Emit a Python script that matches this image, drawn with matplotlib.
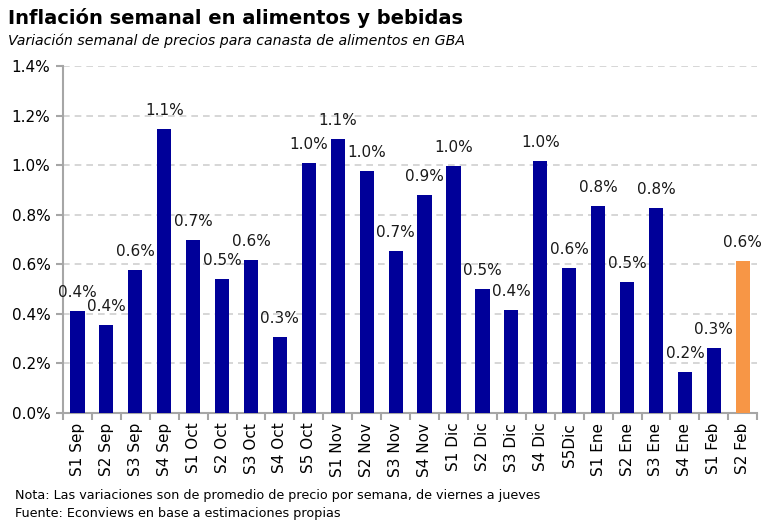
import numpy as np
import matplotlib.pyplot as plt
from matplotlib.ticker import FuncFormatter

# Data
semanas = ["S1 Sep", "S2 Sep", "S3 Sep", "S4 Sep",
           "S1 Oct", "S2 Oct", "S3 Oct", "S4 Oct", "S5 Oct",
           "S1 Nov", "S2 Nov", "S3 Nov", "S4 Nov",
           "S1 Dic", "S2 Dic", "S3 Dic", "S4 Dic", "S5Dic",
           "S1 Ene", "S2 Ene", "S3 Ene", "S4 Ene",
           "S1 Feb", "S2 Feb"]
inflacion = [0.411, 0.355, 0.577, 1.146,
             0.698, 0.541, 0.617, 0.307, 1.008,
             1.105, 0.976, 0.653, 0.879,
             0.996, 0.500, 0.415, 1.017, 0.585,
             0.835, 0.528, 0.827, 0.165,
             0.262, 0.613]
yticks = [0.0, 0.2, 0.4, 0.6, 0.8, 1.0, 1.2, 1.4]

azul = "#000099"
naranja = "#F79646"
gris = "#A6A6A6"

plt.rcParams['font.family'] = 'DejaVu Sans'

fig = plt.figure(figsize=(7.68, 5.32), dpi=100)
ax = fig.add_axes([0.082, 0.2237, 0.904, 0.6523])

x = np.arange(len(semanas))
colores = [azul] * (len(semanas) - 1) + [naranja]
ax.bar(x, inflacion, width=0.49, color=colores, zorder=3)

for xi, v in zip(x, inflacion):
    ax.annotate(f"{v:.1f}%", (xi, v), xytext=(0, 8), textcoords="offset points",
                ha="center", va="bottom", fontsize=11, color="#1a1a1a", zorder=4)

ax.set_xlim(-0.5, len(semanas) - 0.5)
ax.set_ylim(0, 1.4)
ax.set_yticks(yticks)
ax.yaxis.set_major_formatter(FuncFormatter(lambda v, p: f"{v:.1f}%"))
ax.set_xticks(x)
ax.set_xticklabels(semanas, rotation=90, fontsize=11)
ax.set_xticks(np.arange(-0.5, len(semanas)), minor=True)
ax.tick_params(axis="x", which="major", length=0, pad=7)
ax.tick_params(axis="x", which="minor", length=5, color=gris, width=1.5, direction="out")
ax.tick_params(axis="y", length=5, color=gris, width=1.5, labelsize=11, pad=4)

ax.grid(axis="y", color="#D0D0D0", linestyle=(0, (4, 3)), linewidth=1.2, zorder=0)
for s in ["top", "right"]:
    ax.spines[s].set_visible(False)
for s in ["left", "bottom"]:
    ax.spines[s].set_color(gris)
    ax.spines[s].set_linewidth(1.5)

fig.text(0.010, 0.966, "Inflación semanal en alimentos y bebidas", fontsize=14,
         fontweight="bold", va="center", ha="left")
fig.text(0.010, 0.924, "Variación semanal de precios para canasta de alimentos en GBA",
         fontsize=10.2, style="italic", va="center", ha="left")
fig.text(0.020, 0.068, "Nota: Las variaciones son de promedio de precio por semana, de viernes a jueves",
         fontsize=9.2, va="center", ha="left")
fig.text(0.020, 0.034, "Fuente: Econviews en base a estimaciones propias",
         fontsize=9.2, va="center", ha="left")

fig.savefig("out.png", dpi=100)
